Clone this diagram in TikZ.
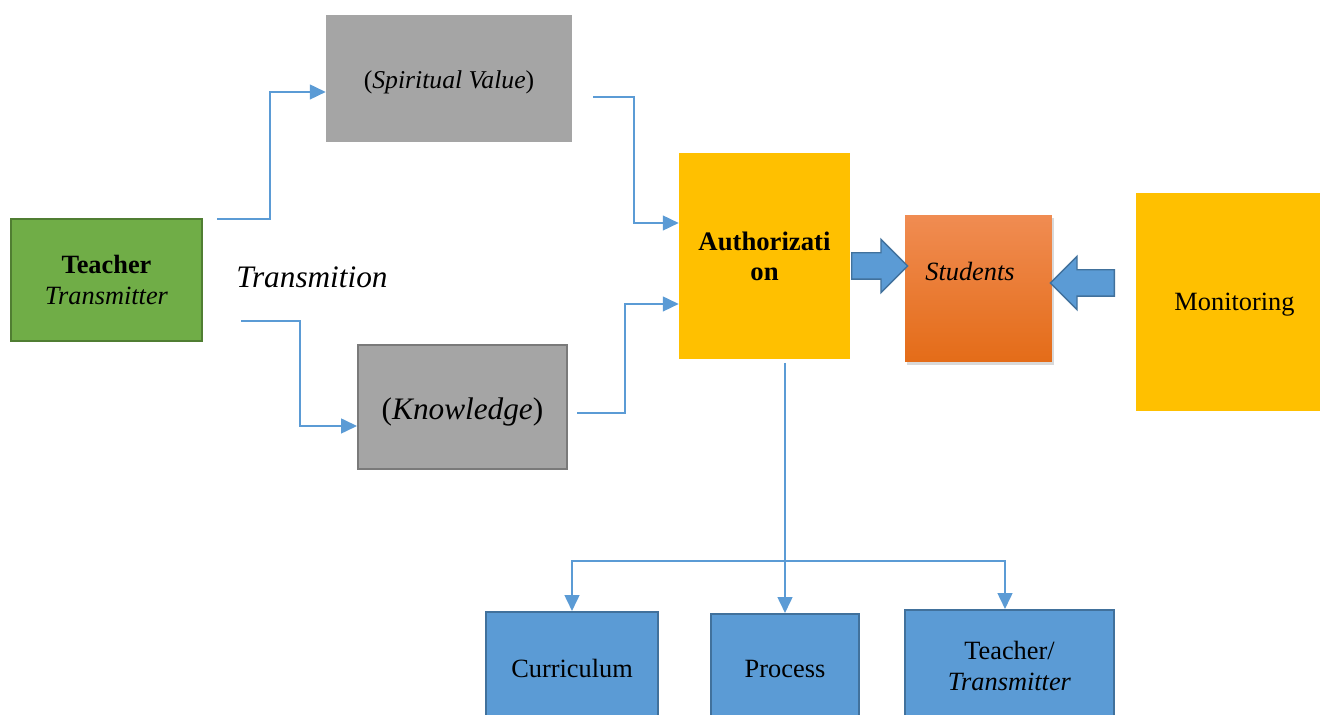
\documentclass[tikz,border=0pt]{standalone}
\usepackage{fontspec}
\setmainfont{Liberation Serif}
\usetikzlibrary{arrows.meta,shapes.arrows,shadows}

\definecolor{boxgreen}{HTML}{70AD47}
\definecolor{boxgreenline}{HTML}{507E32}
\definecolor{boxgray}{HTML}{A5A5A5}
\definecolor{boxgrayline}{HTML}{7A7A7A}
\definecolor{boxgold}{HTML}{FFC000}
\definecolor{boxblue}{HTML}{5B9BD5}
\definecolor{boxblueline}{HTML}{41719C}
\definecolor{orangetop}{HTML}{F08C52}
\definecolor{orangebot}{HTML}{E46C18}

\tikzset{
  box/.style={rectangle, inner sep=0pt, align=center, font=\fontsize{15}{18}\selectfont},
  link/.style={draw=boxblue, line width=0.75pt, -{Triangle[length=9pt,width=8.5pt]}},
  blockarrow/.style={single arrow, fill=boxblue, draw=boxblueline, line width=0.8pt,
    single arrow head extend=0.27cm, inner xsep=0pt, inner ysep=0.25cm, anchor=tail}
}

\begin{document}
\begin{tikzpicture}[x=0.02cm,y=-0.02cm]
  \clip (0,0) rectangle (1320,715);
  \useasboundingbox (0,0) rectangle (1320,715);

  \coordinate (T1) at (217,219);
  \coordinate (T2) at (241,321);
  \coordinate (S1) at (593,97);
  \coordinate (K1) at (577,413);
  \coordinate (A1) at (785,363);
  \coordinate (A2) at (785,561);

  \node[box, fill=boxgreen, draw=boxgreenline, line width=1.2pt,
    minimum width=3.82cm, minimum height=2.44cm] (teacher) at (106.5,280)
    {\textbf{Teacher}\\\textit{Transmitter}};
  \node[font=\fontsize{17.8}{20}\selectfont\itshape] (trans) at (312,277) {Transmition};

  \node[box, fill=boxgray, minimum width=4.92cm, minimum height=2.54cm,
    label={[yshift=-0.08cm,font=\fontsize{14.6}{17}\selectfont]center:(\textit{Spiritual Value})}]
    (spirit) at (449,78.5) {};
  \node[box, fill=boxgray, draw=boxgrayline, line width=1.2pt, minimum width=4.18cm,
    minimum height=2.48cm,
    label={[yshift=-0.1cm,font=\fontsize{17.8}{20}\selectfont]center:(\textit{Knowledge})}]
    (know) at (462.5,407) {};

  \node[box, fill=boxgold, minimum width=3.42cm, minimum height=4.12cm,
    font=\fontsize{15.2}{17}\selectfont\bfseries] (auth) at (764.5,256)
    {Authorizati\\on};
  \node[box, top color=orangetop, bottom color=orangebot,
    drop shadow={opacity=0.3,shadow xshift=0.04cm,shadow yshift=-0.06cm},
    minimum width=2.94cm, minimum height=2.94cm,
    label={[xshift=-0.17cm,yshift=0.33cm,font=\fontsize{15}{18}\selectfont\itshape]center:Students}]
    (stud) at (978.5,288.5) {};
  \node[box, fill=boxgold, minimum width=3.7cm, minimum height=4.36cm,
    label={[xshift=0.12cm,yshift=-0.05cm,font=\fontsize{15}{18}\selectfont]center:Monitoring}]
    (monit) at (1228.5,302) {};

  \node[box, fill=boxblue, draw=boxblueline, line width=1.2pt, minimum width=3.44cm,
    minimum height=2.24cm] (curr) at (572,668) {Curriculum};
  \node[box, fill=boxblue, draw=boxblueline, line width=1.2pt, minimum width=2.96cm,
    minimum height=2.2cm] (proc) at (785,669) {Process};
  \node[box, fill=boxblue, draw=boxblueline, line width=1.2pt, minimum width=4.18cm,
    minimum height=2.24cm] (tt) at (1009.5,666) {Teacher/\\\textit{Transmitter}};

  \node[blockarrow, minimum height=1.12cm] (arrA) at (851,266) {};
  \node[blockarrow, minimum height=1.28cm, shape border rotate=180] (arrB) at (1115,283) {};

  \draw[link] (T1) -- ++(53,0) |- ([yshift=-0.27cm]spirit.west);
  \draw[link] (T2) -- ++(59,0) |- ([yshift=-0.38cm]know.west);
  \draw[link] (S1) -- ++(41,0) |- ([yshift=0.66cm]auth.west);
  \draw[link] (K1) -- ++(48,0) |- ([yshift=-0.96cm]auth.west);
  \draw[link] (A1) -- (proc.north);
  \draw[link] (A2) -| (curr.north);
  \draw[link] (A2) -| ([xshift=-0.09cm]tt.north);
\end{tikzpicture}
\end{document}
